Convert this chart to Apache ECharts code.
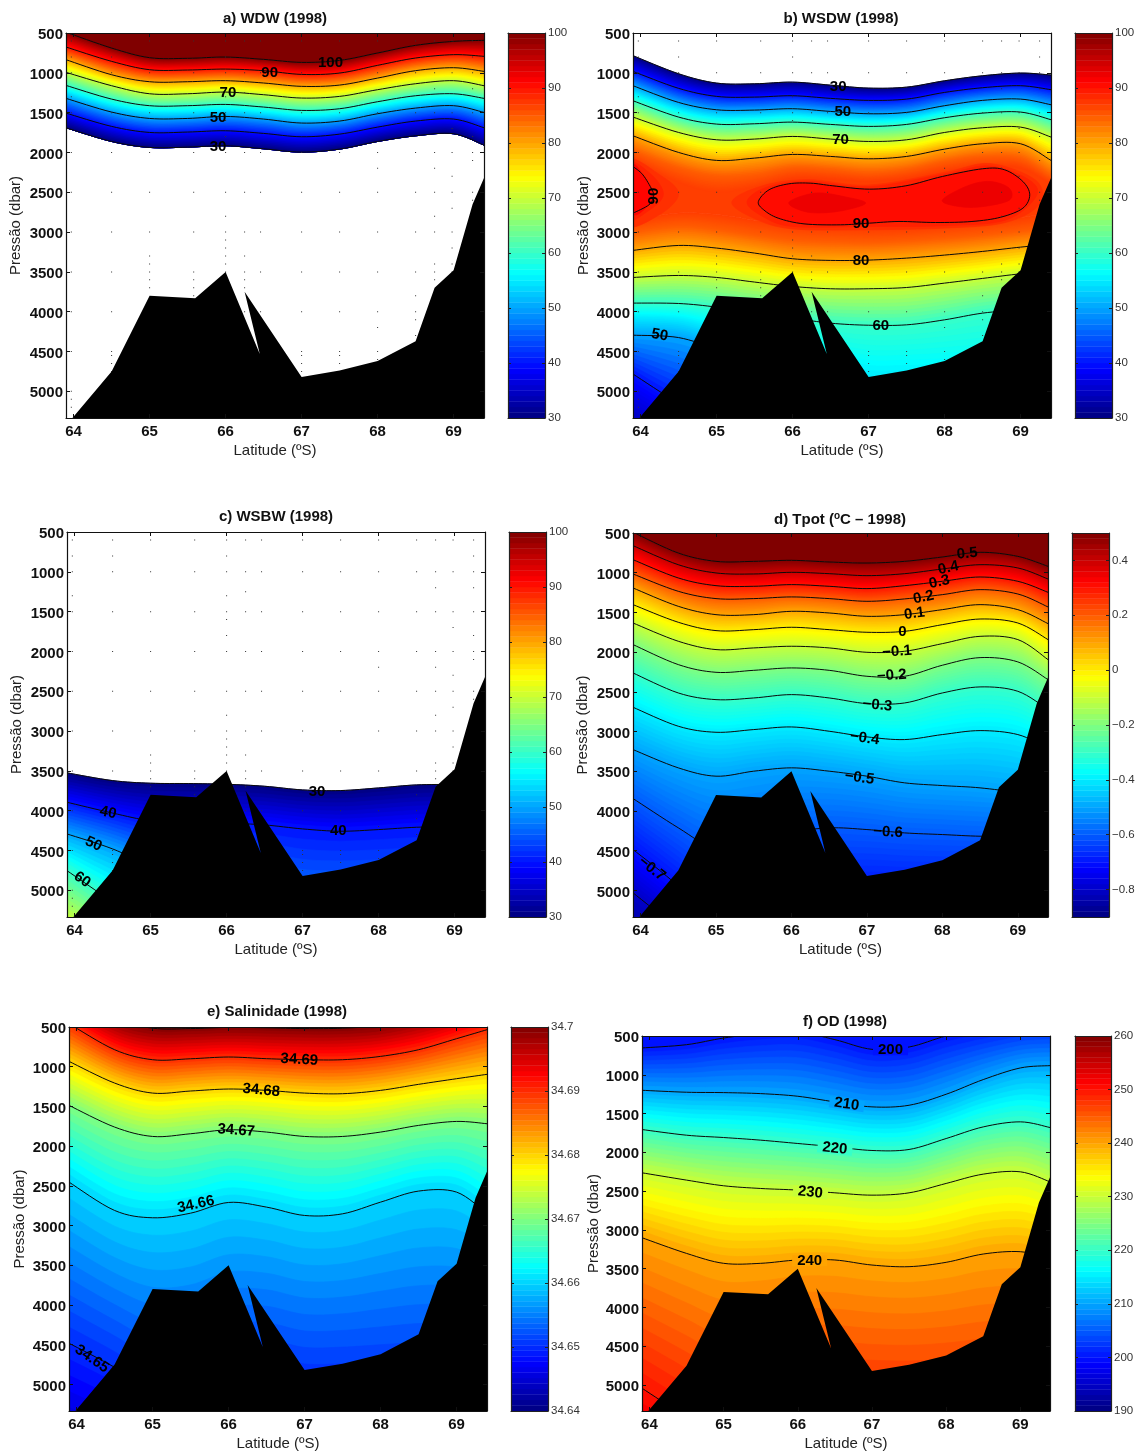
<!DOCTYPE html>
<html><head><meta charset="utf-8">
<style>html,body{margin:0;padding:0;background:#fff}#c{width:1142px;height:1452px}</style>
<script src="https://cdn.jsdelivr.net/npm/echarts@6/dist/echarts.min.js"></script>
</head><body><div id="c"></div>
<script>
// ---------- values ----------
const isoLats=[63.9,64.5,65,65.5,66,66.5,67,67.5,68,68.5,69,69.4];
const latTicks=[64,65,66,67,68,69];
const pressTicks=[500,1000,1500,2000,2500,3000,3500,4000,4500,5000];
const pressMin=500, pressMax=5335, latMin=63.9, latMax=69.4;
const bathymetry=[[63.98,5340],[64.5,4750],[65,3800],[65.6,3830],[66,3500],[66.45,4530],[66.25,3750],[67,4820],[67.5,4740],[68,4620],[68.5,4370],[68.75,3700],[69,3480],[69.25,2650],[69.4,2320],[69.4,5340]];
// CTD sample dots
const stationLats=[63.97,64.5,65,65.58,66,66.25,66.46,67,67.5,68,68.5,68.75,68.98,69.25];
const commonDepths=[600,1000,1500,2000,2500,3000,3500,4000,4500,5000];
const extraDepths=[[800,1300,5100,5200],[800,4550,4650,4750],[3300,3400,3600,3700],[3600,3700,3800],[800,1300,1600,1800,2800,3100,3200,3300,3400],[1250,3300,3600,3700],[],[4550,4650,4750],[4550,4650],[2200,4200,4600],[3800,4100,4300],[1200,2200,2800,3400,3600],[1700,2300,2700,3200,3400],[800,1200,1800,2100,2600]];

// a) WDW isolines (one pressure per isoLat)
const wdwLevels=[100,90,80,70,60,50,40,30];
const wdwLines=[
[490,689,810,818,802,831,869,844,751,655,605,592],
[676,856,961,965,953,973,1020,1003,906,814,772,793],
[835,1024,1112,1112,1099,1128,1170,1154,1066,973,936,982],
[994,1162,1263,1263,1242,1275,1317,1296,1212,1137,1099,1162],
[1158,1330,1413,1413,1397,1430,1472,1451,1363,1288,1263,1321],
[1321,1493,1573,1573,1548,1581,1631,1606,1514,1443,1413,1497],
[1506,1673,1749,1744,1728,1761,1803,1770,1682,1606,1581,1690],
[1690,1862,1937,1933,1916,1954,1996,1958,1862,1791,1765,1908]];
const wdwLabels=[[67.38,877,'100',0],[66.58,1002,'90',0],[66.03,1254,'70',0],[65.9,1568,'50',0],[65.9,1932,'30',0]];

// b) WSDW: upper and lower isolines, closed 90 contour and inner patches
const wsdwUpperLevels=[30,40,50,60,70,80,85,87];
const wsdwUpperLines=[
[785,1012,1129,1138,1117,1155,1192,1180,1100,1037,1003,1028],
[982,1195,1296,1305,1288,1321,1346,1330,1246,1187,1162,1212],
[1162,1372,1464,1468,1451,1485,1514,1497,1413,1346,1330,1401],
[1351,1556,1644,1640,1619,1648,1673,1648,1564,1506,1493,1589],
[1556,1749,1841,1832,1799,1832,1862,1841,1749,1690,1682,1807],
[1791,2000,2100,2071,2025,2050,2080,2050,1958,1891,1891,2100],
[1990,2200,2300,2280,2200,2220,2260,2220,2120,2060,2080,2300],
[2100,2380,2500,2440,2330,2340,2370,2330,2240,2180,2200,2400]];
const wsdwLowerLevels=[87,85,80,70,60,55,50,40,35];
const wsdwLowerLines=[
[2850,2760,2780,2850,2920,2950,2960,2950,2920,2880,2820,2750],
[3000,2930,2970,3040,3100,3120,3130,3110,3080,3040,2990,2950],
[3230,3168,3201,3264,3335,3356,3352,3327,3289,3243,3189,3155],
[3570,3545,3570,3628,3683,3712,3712,3696,3641,3582,3524,3494],
[3892,3897,3943,4020,4081,4144,4170,4165,4102,4018,3976,3955],
[4068,4094,4207,4350,4500,4650,4800,4800,4800,4800,4800,4800],
[4295,4325,4480,4700,4900,5100,5300,5300,5300,5300,5300,5300],
[4783,5150,5400,5600,5700,5800,5800,5800,5800,5800,5800,5800],
[5300,5600,5800,6000,6100,6200,6200,6200,6200,6200,6200,6200]];
const wsdwHaloLeft=[[63.8,2100],[64.25,2280],[64.5,2520],[64.25,2780],[63.8,2900]];
const wsdwHaloLeftInner=[[63.8,2130],[64.12,2260],[64.3,2520],[64.12,2720],[63.8,2830]];
const wsdwHaloMid=[[65.2,2620],[65.6,2420],[66.2,2340],[67,2410],[68,2250],[68.6,2140],[69.2,2350],[69.25,2650],[68.8,2880],[68,2950],[67,2970],[66,2960],[65.5,2830]];
const wsdwHaloMidInner=[[65.4,2620],[65.65,2440],[66.2,2360],[67,2430],[68,2270],[68.6,2170],[69.12,2350],[69.2,2560],[68.8,2850],[68,2920],[67,2930],[66,2930],[65.6,2800]];
const wsdw90Mid=[[65.55,2616],[65.69,2469],[65.95,2394],[66.24,2386],[66.53,2419],[67.01,2461],[67.49,2419],[67.97,2302],[68.5,2205],[68.79,2218],[69.03,2365],[69.12,2532],[69.03,2700],[68.74,2813],[68.36,2867],[67.88,2880],[67.4,2867],[67.01,2888],[66.63,2909],[66.15,2897],[65.81,2825],[65.62,2721]];
const wsdw90Left=[[63.9,2176],[64.03,2281],[64.15,2469],[64.17,2553],[64.11,2658],[63.9,2763]];
const wsdwCoreA=[[65.95,2630],[66.3,2510],[66.7,2560],[66.96,2640],[66.6,2740],[66.2,2750]];
const wsdwCoreB=[[67.97,2600],[68.3,2420],[68.6,2365],[68.85,2450],[68.85,2600],[68.5,2680],[68.2,2680]];
const wsdwLabels=[[66.6,1178,'30',0],[66.66,1492,'50',0],[66.63,1844,'70',0],[64.17,2548,'90',90],[66.9,2900,'90',0],[66.9,3365,'80',0],[67.16,4182,'60',0],[64.25,4294,'50',-10]];

// c) WSBW
const wsbwLevels=[30,40,50,60,70];
const wsbwLines=[
[3525,3622,3655,3659,3668,3693,3739,3747,3714,3676,3672,3684],
[3894,4030,4130,4180,4160,4179,4229,4258,4237,4208,4200,4200],
[4292,4480,4700,4900,5100,5300,5500,5500,5500,5500,5500,5500],
[4753,5150,5500,5600,5700,5800,5800,5800,5800,5800,5800,5800],
[5350,5700,6000,6000,6000,6000,6000,6000,6000,6000,6000,6000]];
const wsbwLabels=[[67.19,3760,'30',0],[64.44,4024,'40',-12],[67.47,4258,'40',0],[64.25,4418,'50',-25],[64.1,4866,'60',-35]];

// d) Tpot
const tpotLevels=[0.5,0.4,0.3,0.2,0.1,0,-0.1,-0.2,-0.3,-0.4,-0.5,-0.6,-0.7,-0.8,-0.9];
const tpotLines=[
[490,752,857,857,844,865,878,857,802,743,794,920],
[659,899,1003,1016,995,1012,1037,1012,953,899,940,1079],
[836,1066,1163,1171,1150,1171,1200,1163,1108,1054,1108,1247],
[1016,1234,1326,1326,1305,1326,1360,1330,1276,1213,1268,1431],
[1192,1423,1528,1528,1486,1507,1549,1528,1465,1402,1465,1641],
[1402,1624,1729,1717,1687,1717,1750,1738,1654,1583,1633,1842],
[1633,1863,1968,1947,1926,1947,2002,1989,1893,1801,1842,2094],
[1905,2157,2254,2229,2199,2229,2304,2304,2165,2069,2123,2346],
[2262,2514,2598,2577,2535,2577,2648,2640,2514,2438,2493,2723],
[2694,2933,3009,2975,2942,2996,3067,3101,3038,2988,3038,3206],
[3227,3457,3562,3499,3457,3499,3562,3646,3680,3709,3772,3856],
[3843,4212,4480,4450,4276,4213,4234,4276,4297,4318,4318,4318],
[4485,4947,5450,5400,5200,5050,5000,5000,5000,5000,5000,5000],
[5030,5490,5900,5900,5700,5600,5600,5600,5600,5600,5600,5600],
[6000,6400,6600,6600,6500,6400,6400,6400,6400,6400,6400,6400]];
const tpotLabels=[[68.33,760,'0.5',6],[68.08,940,'0.4',12],[67.96,1117,'0.3',12],[67.75,1310,'0.2',12],[67.63,1515,'0.1',8],[67.47,1746,'0',0],[67.4,1993,'−0.1',4],[67.33,2295,'−0.2',4],[67.14,2669,'−0.3',-5],[66.97,3084,'−0.4',-8],[66.9,3583,'−0.5',-8],[67.28,4267,'−0.6',-3],[64.15,4729,'−0.7',-38]];

// e) Salinidade
const salLevels=[34.70,34.69,34.68,34.67,34.66,34.65,34.64];
const salLines=[
[100,400,515,520,505,510,520,515,480,380,250,100],
[458,786,912,900,878,899,912,912,870,786,647,534],
[933,1206,1332,1306,1281,1298,1332,1340,1298,1222,1151,1096],
[1487,1760,1878,1844,1794,1823,1878,1878,1823,1739,1689,1718],
[2453,2810,2902,2844,2709,2768,2873,2852,2705,2566,2579,2852],
[4482,4785,5090,5100,4900,4850,4950,4950,4950,4950,4950,4950],
[6500,6700,6900,7000,7000,7000,7000,7000,7000,7000,7000,7000]];
const salLabels=[[66.93,912,'34.69',-3],[66.43,1298,'34.68',-5],[66.1,1802,'34.67',-4],[65.57,2734,'34.66',12],[64.2,4679,'34.65',-35]];

// f) OD
const odLevels=[200,210,220,230,240,250,260];
const odLines=[
[654,612,526,470,449,547,672,642,500,406,341,320],
[1200,1225,1230,1243,1277,1350,1414,1393,1251,1062,912,882],
[1706,1779,1809,1843,1886,1929,1976,1963,1822,1672,1607,1680],
[2264,2358,2431,2466,2487,2522,2552,2522,2401,2281,2251,2380],
[3101,3303,3431,3431,3388,3388,3453,3474,3418,3311,3281,3367],
[5041,5427,5800,5700,5500,5500,5500,5500,5500,5500,5500,5500],
[7000,7100,7200,7200,7200,7200,7200,7200,7200,7200,7200,7200]];
const odLabels=[[67.25,676,'200',0],[66.66,1380,'210',-8],[66.5,1951,'220',-6],[66.17,2517,'230',-6],[66.16,3397,'240',0]];

// colour bar ticks
const pctTicks=[30,40,50,60,70,80,90,100];
const tpotTicks=[-0.8,-0.6,-0.4,-0.2,0,0.2,0.4];
const salTicks=[34.64,34.65,34.66,34.67,34.68,34.69,34.70];
const odTicks=[190,200,210,220,230,240,250,260];

// ---------- panel layout ----------
const FONT='"Liberation Sans",Arial,sans-serif';
const INK='#111';
const panels=[
{title:'a) WDW (1998)',cx:270,ty:6,l:66,r:484,t:33,b:418,bl:508,br:545,range:[30,100],ticks:pctTicks,
 stacks:[{levels:wdwLevels,lines:wdwLines,capBefore:true,draw:[0,1,2,3,4,5,6,7]}],labels:wdwLabels,dots:true,nameGap:43},
{title:'b) WSDW (1998)',cx:836,ty:6,l:633,r:1051,t:33,b:418,bl:1075,br:1112,range:[30,100],ticks:pctTicks,
 stacks:[{levels:wsdwUpperLevels,lines:wsdwUpperLines,draw:[0,1,2,3,4,5]},
         {levels:wsdwLowerLevels,lines:wsdwLowerLines,capAfter:true,draw:[2,3,4,6,7]}],
 gapFill:87,
 patches:[[wsdwHaloLeft,88],[wsdwHaloLeftInner,89],[wsdwHaloMid,88],[wsdwHaloMidInner,89],[wsdw90Mid,90.5],[wsdw90Left,91],[wsdwCoreA,92.5],[wsdwCoreB,92.5]],
 closedLines:[wsdw90Mid],openLines:[wsdw90Left],labels:wsdwLabels,dots:true,nameGap:42},
{title:'c) WSBW (1998)',cx:271,ty:504,l:67,r:485,t:532,b:917,bl:509,br:546,range:[30,100],ticks:pctTicks,
 stacks:[{levels:wsbwLevels,lines:wsbwLines,capAfter:true,draw:[0,1,2,3]}],labels:wsbwLabels,dots:true,nameGap:43},
{title:'d',cx:835,ty:506,l:633,r:1048,t:533,b:917,bl:1072,br:1109,range:[-0.9,0.5],ticks:tpotTicks,
 stacks:[{levels:tpotLevels,lines:tpotLines,capBefore:true,capAfter:true,draw:[0,1,2,3,4,5,6,7,8,9,10,11,12,13]}],labels:tpotLabels,nameGap:43},
{title:'e) Salinidade (1998)',cx:272,ty:999,l:69,r:487,t:1027,b:1411,bl:511,br:548,range:[34.64,34.70],ticks:salTicks,
 stacks:[{levels:salLevels,lines:salLines,capBefore:true,capAfter:true,draw:[0,1,2,3,4,5]}],labels:salLabels,nameGap:42},
{title:'f) OD (1998)',cx:840,ty:1009,l:642,r:1050,t:1036,b:1411,bl:1075,br:1111,range:[190,260],ticks:odTicks,
 stacks:[{levels:odLevels,lines:odLines,capBefore:true,capAfter:true,draw:[0,1,2,3,4,5]}],labels:odLabels,labelGap:true,nameGap:40}
];

// ---------- helpers ----------
const clamp=x=>Math.max(0,Math.min(1,x));
function jet(t){
  t=clamp(t);
  const r=clamp(Math.min(4*t-1.5,-4*t+4.5)),g=clamp(Math.min(4*t-0.5,-4*t+3.5)),b=clamp(Math.min(4*t+0.5,-4*t+2.5));
  return 'rgb('+Math.round(r*255)+','+Math.round(g*255)+','+Math.round(b*255)+')';
}
// Catmull-Rom outline through pixel points: smooths the drawing of the read isolines, the data stay as read
function spline(pts,closed){
  const n=pts.length,out=[],get=i=>closed?pts[(i+n)%n]:pts[Math.max(0,Math.min(n-1,i))];
  const last=closed?n:n-1;
  for(let i=0;i<last;i++){
    const a=get(i-1),b=get(i),c=get(i+1),d=get(i+2);
    for(let s=0;s<8;s++){
      const u=s/8,u2=u*u,u3=u2*u;
      out.push([0,1].map(k=>0.5*(2*b[k]+(c[k]-a[k])*u+(2*a[k]-5*b[k]+4*c[k]-d[k])*u2+(3*b[k]-a[k]-3*c[k]+d[k])*u3)));
    }
  }
  if(closed)out.push(out[0]);else out.push(pts[n-1]);
  return out;
}
const RIBBONS=10;

const option={animation:false,backgroundColor:'#fff',title:[],grid:[],xAxis:[],yAxis:[],series:[]};

panels.forEach(P=>{
  const colorAt=v=>jet((v-P.range[0])/(P.range[1]-P.range[0]));
  // title
  if(P.title==='d'){
    option.title.push({text:'d) Tpot ({s|o}C – 1998)',left:P.cx,top:P.ty,textAlign:'center',
      textStyle:{fontFamily:FONT,fontSize:15,fontWeight:'bold',color:INK,
        rich:{s:{fontFamily:FONT,fontSize:10,fontWeight:'bold',color:INK,padding:[0,0,8,0]}}}});
  }else{
    option.title.push({text:P.title,left:P.cx,top:P.ty,textAlign:'center',
      textStyle:{fontFamily:FONT,fontSize:15,fontWeight:'bold',color:INK}});
  }
  // main grid + mirrored axes
  const g=option.grid.length;
  option.grid.push({left:P.l,width:P.r-P.l,top:P.t,height:P.b-P.t});
  const xb=option.xAxis.length,yb=option.yAxis.length;
  const frame={show:true,onZero:false,lineStyle:{color:'#111',width:1.2}};
  const base={type:'value',gridIndex:g,splitLine:{show:false},z:8};
  option.xAxis.push(Object.assign({},base,{position:'bottom',min:latMin,max:latMax,axisLine:frame,
      axisTick:{show:true,inside:true,length:4,customValues:latTicks,lineStyle:{color:'#111'}},
      axisLabel:{show:true,customValues:latTicks,fontFamily:FONT,fontSize:15,fontWeight:'bold',color:INK,margin:6,formatter:v=>String(v)},
      name:'Latitude (ºS)',nameLocation:'middle',nameGap:25,nameTextStyle:{fontFamily:FONT,fontSize:15,color:'#222'}}),
    Object.assign({},base,{position:'top',min:latMin,max:latMax,axisLine:frame,
      axisTick:{show:true,inside:true,length:4,customValues:latTicks,lineStyle:{color:'#111'}},axisLabel:{show:false}}));
  option.yAxis.push(Object.assign({},base,{position:'left',inverse:true,min:pressMin,max:pressMax,axisLine:frame,
      axisTick:{show:true,inside:true,length:4,customValues:pressTicks,lineStyle:{color:'#111'}},
      axisLabel:{show:true,customValues:pressTicks,margin:3,formatter:v=>'{t|'+v+'}',
        rich:{t:{fontFamily:FONT,fontSize:15,fontWeight:'bold',color:INK,padding:[4,0,0,0]}}},
      name:'Pressão (dbar)',nameLocation:'middle',nameGap:P.nameGap,nameRotate:90,nameTextStyle:{fontFamily:FONT,fontSize:15,color:'#222'}}),
    Object.assign({},base,{position:'right',inverse:true,min:pressMin,max:pressMax,axisLine:frame,
      axisTick:{show:true,inside:true,length:4,customValues:pressTicks,lineStyle:{color:'#111'}},axisLabel:{show:false}}));

  // field: filled bands between the read isolines
  const items=[];
  const offLine=p=>isoLats.map(()=>p);
  P.stacks.forEach(S=>{
    const L=S.levels,Ls=S.lines;
    if(S.capBefore)items.push({a:offLine(-3000),b:Ls[0],color:colorAt(L[0])});
    for(let k=0;k<Ls.length-1;k++){
      for(let j=0;j<RIBBONS;j++){
        const f=j/RIBBONS;
        items.push({a:Ls[k].map((p,i)=>p+(Ls[k+1][i]-p)*f),b:Ls[k+1],color:colorAt(L[k]+(L[k+1]-L[k])*(j+0.5)/RIBBONS)});
      }
    }
    if(S.capAfter)items.push({a:Ls[Ls.length-1],b:offLine(9000),color:colorAt(L[L.length-1])});
  });
  if(P.gapFill!=null){
    items.push({a:P.stacks[0].lines[P.stacks[0].lines.length-1],b:P.stacks[1].lines[0],color:colorAt(P.gapFill)});
  }
  (P.patches||[]).forEach(pc=>items.push({patch:pc[0],color:colorAt(pc[1])}));
  option.series.push({type:'custom',xAxisIndex:xb,yAxisIndex:yb,coordinateSystem:'cartesian2d',clip:true,silent:true,z:2,
    data:items.map((_,i)=>[i,0]),
    renderItem(params,api){
      const it=items[params.dataIndex];let pts;
      if(it.patch){pts=spline(it.patch.map(q=>api.coord(q)),true);}
      else{
        const up=spline(isoLats.map((la,i)=>api.coord([la,it.a[i]])),false);
        const lo=spline(isoLats.map((la,i)=>api.coord([la,it.b[i]])),false).reverse();
        pts=up.concat(lo);
      }
      return {type:'polygon',shape:{points:pts},style:{fill:it.color,stroke:it.color,lineWidth:0.7}};
    }});

  // contour lines
  const contourItems=[];
  P.stacks.forEach(S=>S.draw.forEach(d=>contourItems.push({pts:S.lines[d].map((p,i)=>[isoLats[i],p]),closed:false})));
  (P.closedLines||[]).forEach(c=>contourItems.push({pts:c,closed:true}));
  (P.openLines||[]).forEach(c=>contourItems.push({pts:c,closed:false}));
  option.series.push({type:'custom',xAxisIndex:xb,yAxisIndex:yb,coordinateSystem:'cartesian2d',clip:true,silent:true,z:3,
    data:contourItems.map((_,i)=>[i,0]),
    renderItem(params,api){
      const it=contourItems[params.dataIndex];
      return {type:'polyline',shape:{points:spline(it.pts.map(q=>api.coord(q)),it.closed)},style:{fill:null,stroke:'#0a0a0a',lineWidth:1}};
    }});

  // sample dots
  if(P.dots){
    const dots=[];
    stationLats.forEach((la,i)=>commonDepths.concat(extraDepths[i]).forEach(p=>dots.push([la,p])));
    option.series.push({type:'scatter',xAxisIndex:xb,yAxisIndex:yb,data:dots,symbol:'rect',symbolSize:1,silent:true,z:4,itemStyle:{color:'#333',opacity:1}});
  }

  // bathymetry
  option.series.push({type:'custom',xAxisIndex:xb,yAxisIndex:yb,coordinateSystem:'cartesian2d',clip:true,silent:true,z:5,
    data:[[0,0]],
    renderItem(params,api){return {type:'polygon',shape:{points:bathymetry.map(q=>api.coord(q))},style:{fill:'#000'}};}});

  // contour labels
  option.series.push({type:'scatter',xAxisIndex:xb,yAxisIndex:yb,symbolSize:1,silent:true,z:6,itemStyle:{opacity:1,color:'transparent'},
    data:P.labels.map(q=>{
      const lv=parseFloat(q[2].replace('−','-'));
      const label={show:true,position:'inside',formatter:q[2],rotate:q[3],fontFamily:FONT,fontSize:15,fontWeight:'bold',color:'#000',opacity:1,textBorderWidth:0,textBorderColor:'transparent'};
      if(P.labelGap){label.backgroundColor=colorAt(lv);label.padding=[0,5];label.lineHeight=11;}
      return {value:[q[0],q[1]],label};
    })});

  // colour bar
  const gb=option.grid.length;
  option.grid.push({left:P.bl,width:P.br-P.bl,top:P.t,height:P.b-P.t});
  const bx=option.xAxis.length,by=option.yAxis.length;
  const barFrame={show:true,onZero:false,lineStyle:{color:'#222',width:1.2}};
  const bb={type:'value',gridIndex:gb,splitLine:{show:false},z:8};
  option.xAxis.push(Object.assign({},bb,{position:'bottom',min:0,max:1,axisLine:barFrame,axisTick:{show:false},axisLabel:{show:false}}),
                    Object.assign({},bb,{position:'top',min:0,max:1,axisLine:barFrame,axisTick:{show:false},axisLabel:{show:false}}));
  const fmt=v=>{
    let s;
    if(P.range[1]<1)s=Math.abs(v)<1e-9?'0':v.toFixed(1);
    else if(P.range[0]>34&&P.range[0]<35)s=Math.abs(v-34.7)<1e-6?'34.7':v.toFixed(2);
    else s=String(v);
    return s.replace('-','−');
  };
  option.yAxis.push(Object.assign({},bb,{position:'right',min:P.range[0],max:P.range[1],axisLine:barFrame,
      axisTick:{show:true,inside:true,length:3,customValues:P.ticks,lineStyle:{color:'#222'}},
      axisLabel:{show:true,customValues:P.ticks,fontFamily:FONT,fontSize:11.5,color:'#333',margin:3,formatter:fmt}}),
    Object.assign({},bb,{position:'left',min:P.range[0],max:P.range[1],axisLine:barFrame,
      axisTick:{show:true,inside:true,length:3,customValues:P.ticks,lineStyle:{color:'#222'}},axisLabel:{show:false}}));
  const STEPS=70,stepData=[];
  for(let i=0;i<STEPS;i++)stepData.push([0,i]);
  option.series.push({type:'custom',xAxisIndex:bx,yAxisIndex:by,coordinateSystem:'cartesian2d',clip:true,silent:true,z:2,
    data:stepData,encode:{x:0,y:[]},
    renderItem(params,api){
      const i=params.dataIndex,span=P.range[1]-P.range[0];
      const a=api.coord([0,P.range[0]+span*i/STEPS]),b=api.coord([1,P.range[0]+span*(i+1)/STEPS]);
      const c=jet((i+0.5)/STEPS);
      return {type:'rect',shape:{x:a[0],y:b[1],width:b[0]-a[0],height:a[1]-b[1]},style:{fill:c,stroke:c,lineWidth:0.4}};
    }});
});

const chart=echarts.init(document.getElementById('c'),null,{renderer:'canvas',width:1142,height:1452});
chart.setOption(option);
</script></body></html>
